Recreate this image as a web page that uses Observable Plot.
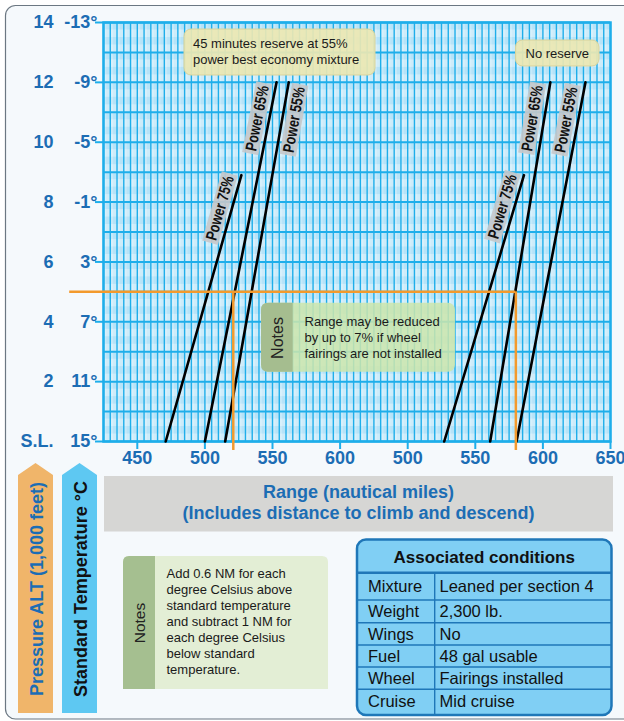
<!DOCTYPE html>
<html><head><meta charset="utf-8">
<script src="https://cdn.jsdelivr.net/npm/d3@7"></script>
<script src="https://cdn.jsdelivr.net/npm/@observablehq/plot@0.6"></script>
<style>
html,body{margin:0;padding:0;background:#fff;}
#wrap{position:relative;width:624px;height:721px;overflow:hidden;font-family:"Liberation Sans",Arial,Helvetica,sans-serif;}
#bg,#fg{position:absolute;left:0;top:0;}
#chart{position:absolute;left:0;top:0;}
</style></head>
<body>
<div id="wrap"><svg id="bg" width="624" height="721"></svg><div id="chart"></div><svg id="fg" width="624" height="721"></svg></div>
<script>
// ---------- data ----------
const altTicks = [0, 2, 4, 6, 8, 10, 12, 14];
const altLabels = ["S.L.", "2", "4", "6", "8", "10", "12", "14"];
const tempLabels = ["15°", "11°", "7°", "3°", "-1°", "-5°", "-9°", "-13°"];
const rangeTickLabels = [450, 500, 550, 600, 500, 550, 600, 650];
const rangeTickPanel = [0, 0, 0, 0, 1, 1, 1, 1];
const panelOffset = 150; // right panel ("No reserve") is drawn shifted by this many NM
const powers = ["75%", "65%", "55%"];
const topAlt = [8.9, 12, 12];
const reserveSL = [471, 500, 515];
const reserveTop = [527, 553, 562];
const noReserveSL = [527, 561, 580.5];
const noReserveTop = [586, 605.5, 631.5];
const reserveLabelAlt = [7.8, 10.8, 10.75];
const noReserveLabelAlt = [7.85, 10.8, 10.75];
const reserveLabelSide = [-1, -1, 1];
const noReserveLabelSide = [-1, -1, -1];
const exampleAlt = 5;
const exampleRange = [521, 580];
const reserveNote = ["45 minutes reserve at 55%", "power best economy mixture"];
const noReserveNote = "No reserve";
const chartNote = ["Range may be reduced", "by up to 7% if wheel", "fairings are not installed"];
const bottomNote = ["Add 0.6 NM for each", "degree Celsius above", "standard temperature", "and subtract 1 NM for", "each degree Celsius", "below standard", "temperature."];
const xTitle = ["Range (nautical miles)", "(Includes distance to climb and descend)"];
const yTitle1 = "Pressure ALT (1,000 feet)";
const yTitle2 = "Standard Temperature °C";
const condTitle = "Associated conditions";
const condKeys = ["Mixture", "Weight", "Wings", "Fuel", "Wheel", "Cruise"];
const condValues = ["Leaned per section 4", "2,300 lb.", "No", "48 gal usable", "Fairings installed", "Mid cruise"];

// ---------- layout ----------
const W = 624, H = 470, mL = 103, mR = 14, mT = 22, mB = 29;
const xDomain = [425, 800], yDomain = [0, 14];
const pxPerNM = (W - mL - mR) / (xDomain[1] - xDomain[0]);
const pxPerKft = (H - mT - mB) / (yDomain[1] - yDomain[0]);
const BLUE = "#1c6db4", GRID = "#1eaeea", ORANGE = "#f39a2d";

const panels = [
  {name: "reserve", off: 0, sl: reserveSL, top: reserveTop, la: reserveLabelAlt, side: reserveLabelSide},
  {name: "none", off: panelOffset, sl: noReserveSL, top: noReserveTop, la: noReserveLabelAlt, side: noReserveLabelSide}
];
const lineRows = [], labelRows = [];
panels.forEach(p => powers.forEach((pw, i) => {
  const sl = p.sl[i] + p.off, tp = p.top[i] + p.off, ta = topAlt[i], la = p.la[i];
  lineRows.push({key: p.name + pw, x: sl, alt: 0}, {key: p.name + pw, x: tp, alt: ta});
  labelRows.push({text: "Power " + pw, x: sl + (tp - sl) * la / ta, alt: la,
    angle: -Math.atan2(ta * pxPerKft, (tp - sl) * pxPerNM) * 180 / Math.PI, side: p.side[i]});
}));
const tickPos = rangeTickLabels.map((v, i) => v + rangeTickPanel[i] * panelOffset);

const labelStyle = {fontFamily: "'Liberation Sans',Arial,sans-serif", fontSize: 16, fontWeight: "bold", fill: "#111"};

const chart = Plot.plot({
  width: W, height: H, marginLeft: mL, marginRight: mR, marginTop: mT, marginBottom: mB,
  style: {background: "transparent", overflow: "visible", fontFamily: "'Liberation Sans',Arial,sans-serif"},
  x: {domain: xDomain},
  y: {domain: yDomain},
  marks: [
    Plot.frame({fill: "#b6e3f8"}),
    Plot.rect(d3.range(0, 14, 0.5), {x1: xDomain[0], x2: xDomain[1], y1: d => d, y2: d => d + 0.25, fill: "#fff", fillOpacity: 0.33}),
    Plot.rect(d3.range(425, 800, 5), {x1: d => d, x2: d => d + 2.5, y1: 0, y2: 14, fill: "#fff", fillOpacity: 0.22}),
    Plot.ruleX(d3.range(425, 801, 5), {stroke: GRID, strokeWidth: 1.4}),
    Plot.ruleY(d3.range(0, 15, 1), {stroke: GRID, strokeWidth: 2}),
    Plot.frame({stroke: GRID, strokeWidth: 2.5}),
    Plot.axisY(altTicks, {tickSize: 8, tickFormat: () => "", stroke: GRID, strokeWidth: 2, label: null}),
    Plot.axisX(tickPos, {tickSize: 8, tickFormat: () => "", stroke: GRID, strokeWidth: 2, label: null}),
    Plot.line(lineRows, {x: "x", y: "alt", z: "key", stroke: "#000", strokeWidth: 2.6}),
    Plot.ruleY([exampleAlt], {x1: xDomain[0] - 25, x2: exampleRange[1] + panelOffset, stroke: ORANGE, strokeWidth: 2.5}),
    Plot.ruleX(exampleRange.map((r, i) => r + i * panelOffset), {y1: exampleAlt, y2: -0.3, stroke: ORANGE, strokeWidth: 2.5}),
    Plot.text(labelRows, {filter: d => d.side < 0, x: "x", y: "alt", text: "text", rotate: "angle", dx: -12, ...labelStyle}),
    Plot.text(labelRows, {filter: d => d.side > 0, x: "x", y: "alt", text: "text", rotate: "angle", dx: 12, ...labelStyle}),
    Plot.text(altTicks, {y: d => d, text: (d, i) => altLabels[i], frameAnchor: "left", dx: -50, textAnchor: "end", fontSize: 18, fontWeight: "bold", fill: BLUE}),
    Plot.text(altTicks, {y: d => d, text: (d, i) => tempLabels[i], frameAnchor: "left", dx: -6, textAnchor: "end", fontSize: 18, fontWeight: "bold", fill: BLUE}),
    Plot.text(tickPos, {x: d => d, text: (d, i) => String(rangeTickLabels[i]), frameAnchor: "bottom", dy: 22, fontSize: 18, fontWeight: "bold", fill: BLUE})
  ]
});
document.getElementById("chart").appendChild(chart);

// condense the rotated power labels and put grey boxes behind them
d3.select(chart).selectAll("text").filter(function () { return /^Power /.test(this.textContent); }).each(function () {
  this.setAttribute("textLength", 66);
  this.setAttribute("lengthAdjust", "spacingAndGlyphs");
  const b = this.getBBox();
  const r = document.createElementNS("http://www.w3.org/2000/svg", "rect");
  r.setAttribute("x", b.x - 3); r.setAttribute("y", b.y + 0.5);
  r.setAttribute("width", b.width + 6); r.setAttribute("height", b.height - 0.5);
  r.setAttribute("fill", "#c6c8ca"); r.setAttribute("fill-opacity", 0.9);
  const t = this.getAttribute("transform");
  if (t) r.setAttribute("transform", t);
  this.parentNode.insertBefore(r, this);
});

// ---------- background frame ----------
d3.select("#bg").append("rect").attr("x", 5.5).attr("y", 5.5).attr("width", 660).attr("height", 713.5)
  .attr("rx", 10).attr("fill", "#f5f9fc").attr("stroke", "#6b7782").attr("stroke-width", 1.2);

// ---------- foreground annotations ----------
const fg = d3.select("#fg").style("font-family", "'Liberation Sans',Arial,Helvetica,sans-serif");
function lines(g, arr, x, y0, step, size, anchor, color, weight) {
  arr.forEach((t, i) => g.append("text").attr("x", x).attr("y", y0 + i * step).attr("dominant-baseline", "central")
    .attr("text-anchor", anchor || "start").attr("font-size", size).attr("font-weight", weight || "normal")
    .attr("fill", color || "#1a1a1a").text(t));
}
function leftRounded(x, y, w, h, r) {
  return `M${x + w},${y}H${x + r}Q${x},${y} ${x},${y + r}V${y + h - r}Q${x},${y + h} ${x + r},${y + h}H${x + w}Z`;
}
// yellow boxes
fg.append("rect").attr("x", 184).attr("y", 29).attr("width", 191).attr("height", 46).attr("rx", 7)
  .attr("fill", "#ece7b2").attr("fill-opacity", 0.92).attr("stroke", "#d8d39c");
lines(fg, reserveNote, 193, 43.5, 16, 13);
fg.append("rect").attr("x", 515.5).attr("y", 40).attr("width", 83.5).attr("height", 26).attr("rx", 7)
  .attr("fill", "#ece7b2").attr("fill-opacity", 0.92).attr("stroke", "#d8d39c");
lines(fg, [noReserveNote], 557.3, 53.5, 16, 13, "middle");
// notes inside chart
fg.append("rect").attr("x", 261).attr("y", 302.7).attr("width", 194).attr("height", 69).attr("rx", 7)
  .attr("fill", "rgb(204,229,172)").attr("fill-opacity", 0.86);
fg.append("path").attr("d", leftRounded(261, 302.7, 31.7, 69, 7)).attr("fill", "#a5bd8f");
fg.append("text").attr("transform", "translate(277,338) rotate(-90)").attr("text-anchor", "middle")
  .attr("dominant-baseline", "central").attr("font-size", 16).attr("fill", "#222").text("Notes");
lines(fg, chartNote, 304.5, 321.7, 15.8, 13);

// axis title band
fg.append("rect").attr("x", 104).attr("y", 476).attr("width", 509).attr("height", 55.5).attr("fill", "#d6d6d4");
lines(fg, xTitle, 358.5, 491.8, 21.5, 18, "middle", BLUE, "bold");

// vertical arrow titles
function arrow(x0, x1, color, text, tcolor) {
  const xm = (x0 + x1) / 2;
  fg.append("polygon").attr("points", `${x0},475 ${xm},463 ${x1},475 ${x1},713 ${x0},713`).attr("fill", color);
  fg.append("text").attr("transform", `translate(${xm + 1},589) rotate(-90)`).attr("text-anchor", "middle")
    .attr("dominant-baseline", "central").attr("font-size", 18).attr("font-weight", "bold").attr("fill", tcolor).text(text);
}
arrow(18, 53, "#f0b56a", yTitle1, BLUE);
arrow(62, 97, "#5ec8f2", yTitle2, "#111");

// bottom notes
fg.append("path").attr("d", `M123,689V562Q123,556 129,556H322Q328,556 328,562V689Z`).attr("fill", "#e3eed5");
fg.append("path").attr("d", `M155,689V556H129Q123,556 123,562V689Z`).attr("fill", "#a5bf90");
fg.append("text").attr("transform", "translate(139,623) rotate(-90)").attr("text-anchor", "middle")
  .attr("dominant-baseline", "central").attr("font-size", 15.5).attr("fill", "#222").text("Notes");
lines(fg, bottomNote, 166.5, 573.5, 16, 13);

// associated conditions table
const tx0 = 357, tx1 = 611.5, ty0 = 539.5, ty1 = 715, colX = 434.7;
const rowEdges = [572.7, 600, 622.7, 645, 667, 689.3, ty1];
fg.append("rect").attr("x", tx0).attr("y", ty0).attr("width", tx1 - tx0).attr("height", ty1 - ty0).attr("rx", 9)
  .attr("fill", "#80cff4").attr("stroke", "#1f77b8").attr("stroke-width", 2.5);
fg.append("line").attr("x1", tx0).attr("x2", tx1).attr("y1", rowEdges[0]).attr("y2", rowEdges[0]).attr("stroke", "#1f77b8").attr("stroke-width", 2.5);
rowEdges.slice(1, -1).forEach(y => fg.append("line").attr("x1", tx0).attr("x2", tx1).attr("y1", y).attr("y2", y).attr("stroke", "#1f77b8").attr("stroke-width", 1.4));
fg.append("line").attr("x1", colX).attr("x2", colX).attr("y1", rowEdges[0]).attr("y2", ty1).attr("stroke", "#1f77b8").attr("stroke-width", 1.4);
fg.append("text").attr("x", (tx0 + tx1) / 2).attr("y", 557).attr("text-anchor", "middle").attr("dominant-baseline", "central")
  .attr("font-size", 17).attr("font-weight", "bold").attr("fill", "#111").text(condTitle);
condKeys.forEach((k, i) => {
  const yc = (rowEdges[i] + rowEdges[i + 1]) / 2 - (i === condKeys.length - 1 ? 1.5 : 0);
  fg.append("text").attr("x", 368).attr("y", yc).attr("dominant-baseline", "central").attr("font-size", 16.5).attr("fill", "#111").text(k);
  fg.append("text").attr("x", 439.5).attr("y", yc).attr("dominant-baseline", "central").attr("font-size", 16.5).attr("fill", "#111").text(condValues[i]);
});
</script>
</body></html>
